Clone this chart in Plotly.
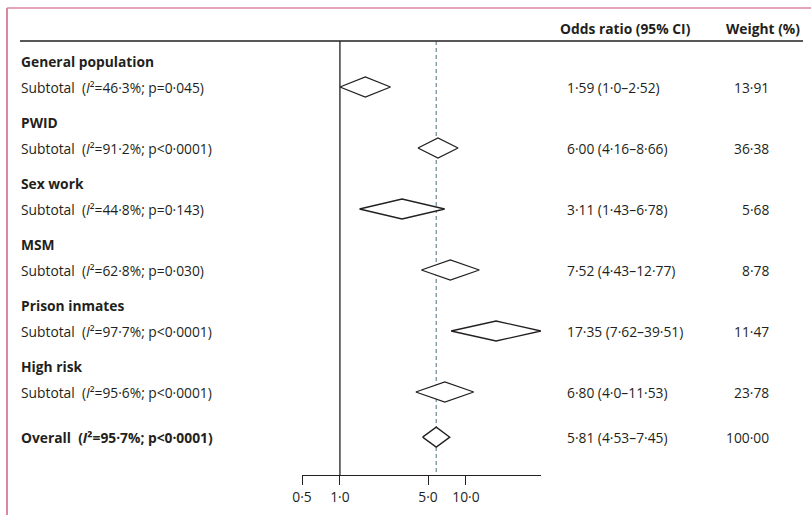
import math
import plotly.graph_objects as go

# ---------------- data ----------------
groups = ["General population", "PWID", "Sex work", "MSM", "Prison inmates", "High risk"]
i2_values = ["46.3", "91.2", "44.8", "62.8", "97.7", "95.6"]
p_values = ["p=0.045", "p<0.0001", "p=0.143", "p=0.030", "p<0.0001", "p<0.0001"]
or_est = ["1.59", "6.00", "3.11", "7.52", "17.35", "6.80"]
or_low = ["1.0", "4.16", "1.43", "4.43", "7.62", "4.0"]
or_high = ["2.52", "8.66", "6.78", "12.77", "39.51", "11.53"]
weights = ["13.91", "36.38", "5.68", "8.78", "11.47", "23.78"]

overall_i2 = "95.7"
overall_p = "p<0.0001"
overall_est = "5.81"
overall_low = "4.53"
overall_high = "7.45"
overall_weight = "100.00"

tick_vals = [0.5, 1.0, 5.0, 10.0]
tick_text = ["0·5", "1·0", "5·0", "10·0"]
col_headers = ["Odds ratio (95% CI)", "Weight (%)"]

# ---------------- layout constants ----------------
W, H = 811, 515
FONT = "Open Sans"
FS = 13.8
TXT = "#231f20"
ROW_PX = 61.0          # pixels per row unit
ROW0_PX = 87.0         # pixel of first subtotal row
AXIS_PX = 475.0        # pixel of x axis line
AX_LEFT_PX = 302.0
PX_PER_DEC = 126.0
HALF_H = 10.0 / ROW_PX  # diamond half height in row units


def dot(s):
    return s.replace(".", "·")


n = len(groups)
sub_y = list(range(n))
head_y = [y - 0.42 for y in sub_y]
overall_y = n - 0.26
header_line_y = -0.754
col_head_y = -0.967

y_top = -ROW0_PX / ROW_PX
y_bot = (AXIS_PX - ROW0_PX) / ROW_PX

x_min = min(tick_vals)
x_max = max(float(v) for v in or_high)
dom_l = AX_LEFT_PX / W
dom_r = (AX_LEFT_PX + PX_PER_DEC * (math.log10(x_max) - math.log10(x_min))) / W

fig = go.Figure()

# reference lines
fig.add_trace(go.Scatter(x=[1.0, 1.0], y=[header_line_y, y_bot], mode="lines",
                         line=dict(color=TXT, width=1.3), hoverinfo="skip", showlegend=False))
fig.add_trace(go.Scatter(x=[float(overall_est)] * 2, y=[header_line_y, y_bot], mode="lines",
                         line=dict(color="#6c8797", width=1.2, dash="4px,3px"),
                         hoverinfo="skip", showlegend=False))


def diamond(lo, est, hi, y):
    lo, est, hi = float(lo), float(est), float(hi)
    fig.add_trace(go.Scatter(
        x=[lo, est, hi, est, lo], y=[y, y - HALF_H, y, y + HALF_H, y],
        mode="lines", fill="toself", fillcolor="white",
        line=dict(color=TXT, width=1.3), hoverinfo="skip", showlegend=False))


for i in range(n):
    diamond(or_low[i], or_est[i], or_high[i], sub_y[i])
diamond(overall_low, overall_est, overall_high, overall_y)

annotations = []


def text(x_px, y, s, anchor="left", bold=False, size=FS):
    if bold:
        s = "<b>" + s + "</b>"
    annotations.append(dict(x=x_px / W, xref="paper", y=y, yref="y", text=s,
                            showarrow=False, xanchor=anchor, yanchor="middle",
                            align=anchor, borderpad=0,
                            font=dict(family=FONT, size=size, color=TXT)))


LEFT_PX = 20
OR_PX = 566
WT_PX = 770

text(559, col_head_y, col_headers[0], bold=True)
text(801, col_head_y, col_headers[1], anchor="right", bold=True)

for i in range(n):
    text(LEFT_PX, head_y[i], groups[i], bold=True)
    text(LEFT_PX, sub_y[i],
         "Subtotal\u00a0 (<i>I</i>²=" + dot(i2_values[i]) + "%; " + dot(p_values[i]) + ")")
    text(OR_PX, sub_y[i], dot(or_est[i]) + " (" + dot(or_low[i]) + "–" + dot(or_high[i]) + ")")
    text(WT_PX, sub_y[i], dot(weights[i]), anchor="right")

text(LEFT_PX, overall_y,
     "Overall\u00a0 (<i>I</i>²=" + dot(overall_i2) + "%; " + dot(overall_p) + ")", bold=True)
text(OR_PX, overall_y, dot(overall_est) + " (" + dot(overall_low) + "–" + dot(overall_high) + ")")
text(WT_PX, overall_y, dot(overall_weight), anchor="right")

shapes = [
    # header rule
    dict(type="line", xref="paper", yref="y", x0=20 / W, x1=803 / W,
         y0=header_line_y, y1=header_line_y, line=dict(color=TXT, width=1.3)),
    # frame lines
    dict(type="line", xref="paper", yref="paper", x0=7 / W, x1=1,
         y0=1 - 8 / H, y1=1 - 8 / H, line=dict(color="#cf4a70", width=1.2)),
    dict(type="line", xref="paper", yref="paper", x0=7 / W, x1=7 / W,
         y0=0, y1=1 - 8 / H, line=dict(color="#dc87a0", width=2)),
]

fig.update_layout(
    width=W, height=H,
    margin=dict(l=0, r=0, t=0, b=0, autoexpand=False),
    paper_bgcolor="white", plot_bgcolor="white",
    showlegend=False,
    annotations=annotations,
    shapes=shapes,
    xaxis=dict(type="log", domain=[dom_l, dom_r],
               range=[math.log10(x_min), math.log10(x_max)],
               showgrid=False, zeroline=False,
               showline=True, linecolor=TXT, linewidth=1.3,
               ticks="outside", ticklen=9, tickwidth=1.3, tickcolor=TXT,
               tickvals=tick_vals, ticktext=tick_text,
               tickfont=dict(family=FONT, size=FS, color=TXT),
               fixedrange=True),
    yaxis=dict(domain=[(H - AXIS_PX) / H, 1], range=[y_bot, y_top],
               visible=False, showgrid=False, zeroline=False, fixedrange=True),
)

fig.write_html("out.html", config={"displayModeBar": False},
               post_script="document.body.style.margin='0';")
